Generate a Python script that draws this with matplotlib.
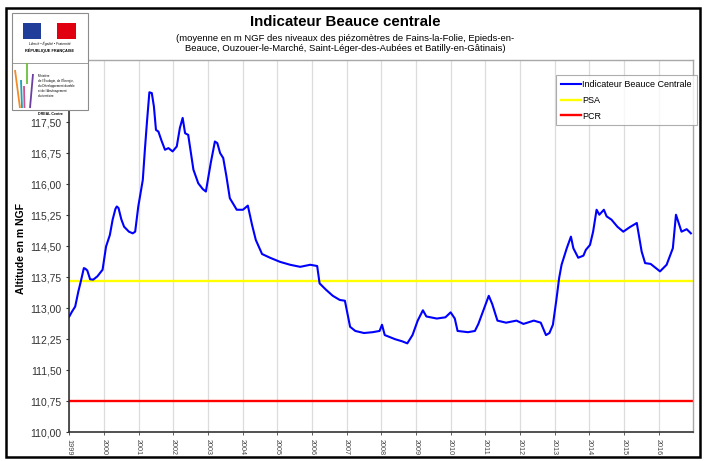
import matplotlib
matplotlib.use("Agg")
import matplotlib.pyplot as plt
from matplotlib.patches import Rectangle

plt.rcParams['font.family'] = ['Liberation Sans', 'DejaVu Sans']

# ---------------- data ----------------
years = [1999.00, 1999.08, 1999.17, 1999.26, 1999.33, 1999.42, 1999.47, 1999.52, 1999.60, 1999.69,
         1999.81, 1999.96, 2000.06, 2000.17, 2000.25, 2000.33, 2000.37, 2000.42, 2000.50, 2000.58,
         2000.72, 2000.83, 2000.90, 2000.99, 2001.12, 2001.18, 2001.24, 2001.31, 2001.38, 2001.44,
         2001.50, 2001.57, 2001.66, 2001.76, 2001.86, 2001.98, 2002.10, 2002.19, 2002.27, 2002.34,
         2002.43, 2002.50, 2002.58, 2002.72, 2002.85, 2002.94, 2003.08, 2003.20, 2003.27, 2003.35,
         2003.44, 2003.53, 2003.63, 2003.83, 2004.01, 2004.15, 2004.27, 2004.38, 2004.56, 2004.79,
         2005.08, 2005.37, 2005.66, 2005.95, 2006.15, 2006.22, 2006.40, 2006.60, 2006.80, 2006.95,
         2007.10, 2007.25, 2007.50, 2007.75, 2007.95, 2008.02, 2008.10, 2008.40, 2008.60, 2008.75,
         2008.90, 2009.05, 2009.20, 2009.30, 2009.60, 2009.85, 2010.00, 2010.12, 2010.20, 2010.50,
         2010.70, 2010.80, 2011.10, 2011.20, 2011.35, 2011.60, 2011.90, 2012.10, 2012.40, 2012.60,
         2012.75, 2012.85, 2012.95, 2013.05, 2013.13, 2013.20, 2013.35, 2013.47, 2013.54, 2013.68,
         2013.83, 2013.90, 2014.02, 2014.11, 2014.21, 2014.29, 2014.42, 2014.50, 2014.64, 2014.81,
         2014.98, 2015.17, 2015.37, 2015.51, 2015.61, 2015.77, 2016.04, 2016.23, 2016.41, 2016.50,
         2016.66, 2016.81, 2016.93]
level = [112.80, 112.92, 113.04, 113.40, 113.64, 113.97, 113.95, 113.91, 113.70, 113.69,
         113.77, 113.93, 114.49, 114.77, 115.14, 115.40, 115.46, 115.42, 115.15, 114.97,
         114.85, 114.81, 114.85, 115.46, 116.10, 116.83, 117.50, 118.22, 118.20, 117.88,
         117.31, 117.27, 117.05, 116.83, 116.87, 116.79, 116.91, 117.36, 117.60, 117.23,
         117.19, 116.80, 116.35, 116.02, 115.88, 115.82, 116.51, 117.03, 116.99, 116.75,
         116.63, 116.20, 115.66, 115.38, 115.38, 115.48, 115.02, 114.65, 114.31, 114.22,
         114.12, 114.05, 114.00, 114.05, 114.02, 113.60, 113.45, 113.30, 113.20, 113.18,
         112.55, 112.45, 112.40, 112.42, 112.45, 112.60, 112.35, 112.25, 112.20, 112.15,
         112.35, 112.70, 112.95, 112.80, 112.75, 112.78, 112.90, 112.75, 112.45, 112.42,
         112.45, 112.62, 113.30, 113.10, 112.70, 112.65, 112.70, 112.62, 112.70, 112.65,
         112.35, 112.40, 112.60, 113.20, 113.73, 114.05, 114.45, 114.73, 114.45, 114.22,
         114.27, 114.41, 114.53, 114.85, 115.38, 115.26, 115.38, 115.22, 115.14, 114.97,
         114.85, 114.96, 115.06, 114.37, 114.09, 114.07, 113.89, 114.05, 114.45, 115.26,
         114.85, 114.91, 114.81]
psa = 113.65
pcr = 110.75
series_labels = ['Indicateur Beauce Centrale', 'PSA', 'PCR']
xtick_years = list(range(1999, 2017))
ytick_values = [110.00, 110.75, 111.50, 112.25, 113.00, 113.75, 114.50, 115.25, 116.00, 116.75, 117.50]

title = 'Indicateur Beauce centrale'
subtitle = ("(moyenne en m NGF des niveaux des piézomètres de Fains-la-Folie, Epieds-en-\n"
            "Beauce, Ouzouer-le-Marché, Saint-Léger-des-Aubées et Batilly-en-Gâtinais)")
ylabel = 'Altitude en m NGF'

# ---------------- figure ----------------
W, H = 705, 461
fig = plt.figure(figsize=(W / 100, H / 100), dpi=100)

def fx(px):
    return px / W

def fy(py):
    return 1 - py / H

L, R, T, B = 69.3, 693.3, 60.0, 432.3
ax = fig.add_axes([fx(L), fy(B), (R - L) / W, (B - T) / H])

ax.plot(years, level, color='#0000ff', lw=1.5, label=series_labels[0], zorder=3, solid_joinstyle='round')
ax.axhline(psa, color='#ffff00', lw=1.7, label=series_labels[1], zorder=2)
ax.axhline(pcr, color='#ff0000', lw=1.7, label=series_labels[2], zorder=2)

ax.set_xlim(1999, 2017)
ax.set_ylim(110, 119)
ax.set_yticks(ytick_values)
ax.set_yticklabels([f"{v:.2f}".replace('.', ',') for v in ytick_values])
ax.set_xticks(xtick_years)
ax.set_xticklabels([str(y) for y in xtick_years], rotation=270)
ax.grid(axis='x', color='#dcdcdc', lw=0.9)
ax.set_axisbelow(True)

for s in ['top', 'right']:
    ax.spines[s].set_color('#a8a8a8')
    ax.spines[s].set_linewidth(1.0)
for s in ['left', 'bottom']:
    ax.spines[s].set_color('#333333')
    ax.spines[s].set_linewidth(1.2)

ax.tick_params(axis='y', length=2.5, width=0.8, labelsize=7.5, colors='#333333', pad=3)
ax.tick_params(axis='x', length=2, width=0.6, labelsize=5.2, colors='#444444', pad=2.5)

leg = fig.legend(loc='upper left', bbox_to_anchor=(fx(555.7), fy(75)), borderaxespad=0,
                 fontsize=6.5, frameon=True, fancybox=False, handlelength=2.2,
                 handletextpad=0.2, labelspacing=0.75, borderpad=0.55)
leg.get_frame().set_edgecolor('#9a9a9a')
leg.get_frame().set_linewidth(0.8)

fig.text(fx(345), fy(22), title, ha='center', va='center', fontsize=10.8, fontweight='bold')
fig.text(fx(345), fy(43.5), subtitle, ha='center', va='center', fontsize=6.8, linespacing=1.15)
fig.text(fx(21), fy(248), ylabel, ha='center', va='center', rotation=90, fontsize=7.5, fontweight='bold')

# ---------------- overlay: frame + logo ----------------
ov = fig.add_axes([0, 0, 1, 1], zorder=10)
ov.set_xlim(0, W)
ov.set_ylim(H, 0)
ov.axis('off')
ov.patch.set_alpha(0)

ov.add_patch(Rectangle((6, 8), 694, 449, fill=False, ec='black', lw=1.8))

ov.add_patch(Rectangle((11.7, 12.7), 76.6, 97.3, fc='white', ec='#8c8c8c', lw=0.8))
ov.plot([11.7, 88.3], [63, 63], color='#8c8c8c', lw=0.6)
ov.add_patch(Rectangle((22.7, 22.7), 18, 16.6, fc='#1f3d99', ec='none'))
ov.add_patch(Rectangle((57, 22.7), 19, 16.6, fc='#e1000f', ec='none'))
ov.text(49.5, 43.5, 'Liberté • Égalité • Fraternité', ha='center', va='center', fontsize=2.4, style='italic')
ov.text(49.5, 51, 'RÉPUBLIQUE FRANÇAISE', ha='center', va='center', fontsize=2.8, fontweight='bold')
for (x0, y0, x1, y1, c) in [(15, 70, 20, 108, '#f28c28'), (21, 80, 22, 108, '#1aa3b5'),
                            (24, 86, 24.5, 108, '#d4508c'), (27, 63, 27, 84, '#6cbf3b'),
                            (33, 74, 30, 108, '#6b3fa0')]:
    ov.plot([x0, x1], [y0, y1], color=c, lw=1.3, solid_capstyle='butt')
for i, t in enumerate(['Ministère', "de l'Écologie, de l'Énergie,", 'du Développement durable',
                       "et de l'Aménagement", 'du territoire']):
    ov.text(38, 76 + 5 * i, t, ha='left', va='center', fontsize=2.2)
ov.text(50, 113.5, 'DREAL Centre', ha='center', va='center', fontsize=2.6, fontweight='bold')

fig.savefig('out.png', dpi=100)
